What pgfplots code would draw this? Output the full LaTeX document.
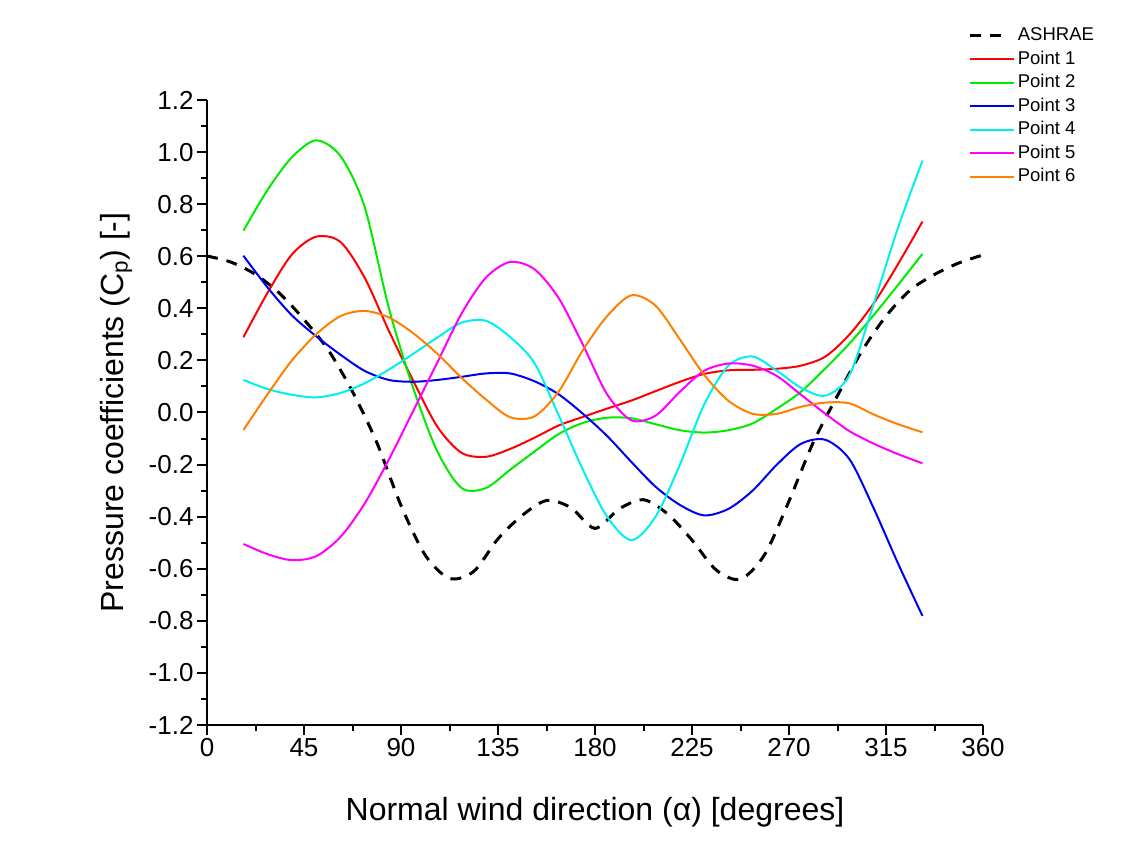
\documentclass[border=0pt]{standalone}
\usepackage{fontspec}
\setmainfont{Liberation Sans}
\usepackage{pgfplots}
\pgfplotsset{compat=1.18}
\pgfplotsset{
  longleg/.style={legend image code/.code={\draw[##1] (0pt,0pt) -- (44pt,0pt);}},
  shortleg/.style={legend image code/.code={\draw[##1] (0pt,0pt) -- (31pt,0pt);}},
}
\definecolor{cRed}{RGB}{255,0,0}
\definecolor{cGreen}{RGB}{0,235,0}
\definecolor{cBlue}{RGB}{0,0,240}
\definecolor{cCyan}{RGB}{0,240,240}
\definecolor{cMag}{RGB}{255,0,255}
\definecolor{cOrange}{RGB}{255,128,0}
\begin{document}
\begin{tikzpicture}[x=1pt,y=1pt]
\useasboundingbox (0,0) rectangle (1135,865);
\begin{axis}[
  at={(207pt,140pt)}, anchor=south west,
  scale only axis, width=776pt, height=625pt,
  xmin=0, xmax=360, ymin=-1.2, ymax=1.2,
  axis x line*=bottom, axis y line*=left,
  axis line style={-, line width=2.5pt},
  xtick={0,45,90,135,180,225,270,315,360}, minor x tick num=1,
  ytick={-1.2,-1.0,-0.8,-0.6,-0.4,-0.2,0,0.2,0.4,0.6,0.8,1.0,1.2}, minor y tick num=1,
  tick align=outside,
  major tick length=10pt, minor tick length=6pt,
  every tick/.style={line width=2pt, black},
  tick label style={font=\fontsize{26}{26}\selectfont},
  /pgf/number format/assume math mode=true,
  yticklabel style={/pgf/number format/.cd, fixed, fixed zerofill, precision=1},
  xticklabel style={/pgf/number format/.cd, fixed, precision=0},
  xlabel={Normal wind direction (α) [degrees]},
  ylabel={Pressure coefficients (C\textsubscript{p}) [-]},
  label style={font=\fontsize{32}{32}\selectfont},
  xlabel style={at={(axis description cs:0.5,-0.14)}, anchor=center},
  ylabel style={at={(axis description cs:-0.1165,0.5)}, anchor=center},
  legend style={at={(axis description cs:0.977,1.125)}, anchor=north west, draw=none, fill=none,
    font=\fontsize{18.5}{18.5}\selectfont,
    nodes={text height=13.5pt, text depth=4pt, inner ysep=3pt, inner xsep=3pt}},
  legend cell align=left,
  longleg,
  every axis plot/.append style={smooth, line join=round},
]
\addplot[black, line width=3pt, dash pattern=on 11pt off 9pt, shortleg] coordinates {
(0,0.601)(11.25,0.577)(22.5,0.53)(33.75,0.457)(45,0.357)(56.25,0.24)(67.5,0.08)(78.75,-0.115)
(90,-0.357)(101.25,-0.548)(112.5,-0.637)(123.75,-0.61)(135,-0.485)(146.25,-0.395)(157.5,-0.338)
(168.75,-0.365)(180,-0.445)(191.25,-0.37)(202.5,-0.335)(213.75,-0.39)(225,-0.49)(236.25,-0.605)
(247.5,-0.64)(258.75,-0.545)(270,-0.34)(281.25,-0.115)(292.5,0.065)(303.75,0.235)(315,0.37)
(326.25,0.47)(337.5,0.53)(348.75,0.574)(360,0.605)};
\addlegendentry{ASHRAE}
\addplot[cRed, line width=2pt] coordinates {
(16.9,0.289)(28.1,0.46)(39.4,0.607)(50.6,0.675)(61.9,0.655)(73.1,0.518)(84.4,0.313)(95.6,0.123)
(106.9,-0.055)(118.1,-0.155)(129.4,-0.17)(140.6,-0.14)(151.9,-0.097)(163.1,-0.05)(174.4,-0.017)
(185.6,0.015)(196.9,0.046)(208.1,0.082)(219.4,0.118)(230.6,0.148)(241.9,0.162)(253.1,0.164)
(264.4,0.168)(275.6,0.18)(286.9,0.215)(298.1,0.30)(309.4,0.42)(320.6,0.57)(331.9,0.733)};
\addlegendentry{Point 1}
\addplot[cGreen, line width=2pt] coordinates {
(16.9,0.698)(28.1,0.855)(39.4,0.98)(50.6,1.045)(61.9,0.985)(73.1,0.79)(84.4,0.40)(95.6,0.095)
(106.9,-0.15)(118.1,-0.29)(129.4,-0.29)(140.6,-0.22)(151.9,-0.15)(163.1,-0.083)(174.4,-0.04)
(185.6,-0.02)(196.9,-0.022)(208.1,-0.045)(219.4,-0.068)(230.6,-0.077)(241.9,-0.068)(253.1,-0.042)
(264.4,0.015)(275.6,0.08)(286.9,0.17)(298.1,0.265)(309.4,0.375)(320.6,0.49)(331.9,0.609)};
\addlegendentry{Point 2}
\addplot[cBlue, line width=2pt] coordinates {
(16.9,0.602)(28.1,0.48)(39.4,0.373)(50.6,0.293)(61.9,0.222)(73.1,0.16)(84.4,0.125)(95.6,0.118)
(106.9,0.125)(118.1,0.137)(129.4,0.15)(140.6,0.15)(151.9,0.12)(163.1,0.07)(174.4,-0.005)
(185.6,-0.09)(196.9,-0.19)(208.1,-0.285)(219.4,-0.355)(230.6,-0.395)(241.9,-0.37)(253.1,-0.30)
(264.4,-0.2)(275.6,-0.12)(286.9,-0.105)(298.1,-0.18)(309.4,-0.37)(320.6,-0.58)(331.9,-0.781)};
\addlegendentry{Point 3}
\addplot[cCyan, line width=2pt] coordinates {
(16.9,0.125)(28.1,0.09)(39.4,0.068)(50.6,0.058)(61.9,0.075)(73.1,0.112)(84.4,0.165)(95.6,0.225)
(106.9,0.288)(118.1,0.345)(129.4,0.352)(140.6,0.29)(151.9,0.19)(163.1,-0.01)(174.4,-0.22)
(185.6,-0.40)(196.9,-0.49)(208.1,-0.40)(219.4,-0.20)(230.6,0.03)(241.9,0.18)(253.1,0.215)
(264.4,0.16)(275.6,0.095)(286.9,0.065)(298.1,0.145)(309.4,0.42)(320.6,0.71)(331.9,0.967)};
\addlegendentry{Point 4}
\addplot[cMag, line width=2pt] coordinates {
(16.9,-0.505)(28.1,-0.544)(39.4,-0.567)(50.6,-0.552)(61.9,-0.478)(73.1,-0.35)(84.4,-0.18)(95.6,0.005)
(106.9,0.193)(118.1,0.38)(129.4,0.518)(140.6,0.578)(151.9,0.55)(163.1,0.44)(174.4,0.26)
(185.6,0.07)(196.9,-0.03)(208.1,-0.012)(219.4,0.08)(230.6,0.16)(241.9,0.188)(253.1,0.18)
(264.4,0.14)(275.6,0.068)(286.9,-0.005)(298.1,-0.072)(309.4,-0.12)(320.6,-0.16)(331.9,-0.195)};
\addlegendentry{Point 5}
\addplot[cOrange, line width=2pt] coordinates {
(16.9,-0.067)(28.1,0.07)(39.4,0.2)(50.6,0.30)(61.9,0.37)(73.1,0.39)(84.4,0.365)(95.6,0.305)
(106.9,0.225)(118.1,0.133)(129.4,0.05)(140.6,-0.018)(151.9,-0.015)(163.1,0.08)(174.4,0.24)
(185.6,0.37)(196.9,0.45)(208.1,0.41)(219.4,0.28)(230.6,0.145)(241.9,0.045)(253.1,-0.005)
(264.4,-0.005)(275.6,0.022)(286.9,0.038)(298.1,0.035)(309.4,-0.008)(320.6,-0.045)(331.9,-0.076)};
\addlegendentry{Point 6}
\end{axis}
\end{tikzpicture}
\end{document}
